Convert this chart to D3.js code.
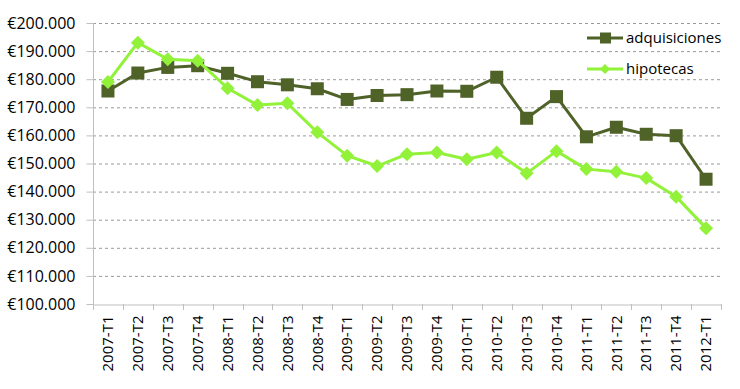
<!DOCTYPE html>
<html><head><meta charset="utf-8">
<script src="https://cdn.jsdelivr.net/npm/d3@7"></script>
<style>body{margin:0;background:#fff}svg{display:block}text{font-family:"Open Sans",sans-serif}</style>
</head><body><svg id="c" width="740" height="389"></svg>
<script>
const categories = ["2007-T1","2007-T2","2007-T3","2007-T4","2008-T1","2008-T2","2008-T3","2008-T4","2009-T1","2009-T2","2009-T3","2009-T4","2010-T1","2010-T2","2010-T3","2010-T4","2011-T1","2011-T2","2011-T3","2011-T4","2012-T1"];
const adquisiciones = [175800,182200,184200,184800,182100,179100,178000,176600,172800,174200,174500,175800,175700,180700,166100,173800,159500,162900,160400,159900,144400];
const hipotecas = [179000,193000,187100,186600,176800,170800,171400,161100,152800,149100,153300,153900,151500,153900,146500,154400,148000,147100,144800,138200,127000];
const yTicks = [100000,110000,120000,130000,140000,150000,160000,170000,180000,190000,200000];
const seriesNames = ["adquisiciones","hipotecas"];
const colors = ["#4f6228","#92f23a"];

const svg = d3.select("#c");
const L = 93, R = 721, T = 23, B = 304;
const x = d3.scaleBand().domain(categories).range([L, R]);
const y = d3.scaleLinear().domain([100000, 200000]).range([B, T]);
const fmt = v => "€" + d3.format(",")(v).replace(/,/g, ".");

// gridlines
svg.append("g").selectAll("line").data(yTicks.slice(1)).join("line")
  .attr("x1", L).attr("x2", R).attr("y1", d => y(d)+0.5).attr("y2", d => y(d)+0.5)
  .attr("stroke", "#9a9a9a").attr("stroke-width", 1).attr("stroke-dasharray", "3,3");

// y axis
const ya = svg.append("g").attr("transform", `translate(${L+0.5},0)`)
  .call(d3.axisLeft(y).tickValues(yTicks).tickFormat(fmt).tickSize(7).tickPadding(11));
ya.select(".domain").attr("stroke", "#bfbfbf").attr("d", `M0,${B+0.5}V${T}`);
ya.selectAll(".tick line").attr("stroke", "#bfbfbf");
ya.selectAll(".tick text").attr("font-size", 16).attr("fill", "#000").attr("font-family", "Open Sans");

// x axis
const xa = svg.append("g").attr("transform", `translate(0,${B+0.5})`)
  .call(d3.axisBottom(x).tickSize(0).tickPadding(0));
xa.select(".domain").attr("stroke", "#bfbfbf");
xa.selectAll(".tick text").attr("font-size", 15).attr("fill", "#000")
  .attr("transform", "rotate(-90)").attr("text-anchor", "end")
  .attr("x", -11).attr("y", 0).attr("dy", "0.35em");
// x tick marks at category boundaries
svg.append("g").selectAll("line").data(d3.range(categories.length + 1)).join("line")
  .attr("x1", i => Math.round(L + i * x.step()) + 0.5).attr("x2", i => Math.round(L + i * x.step()) + 0.5)
  .attr("y1", B).attr("y2", B + 6).attr("stroke", "#bfbfbf");

const cx = c => x(c) + x.bandwidth() / 2;
const line = d3.line().x((d, i) => cx(categories[i])).y(d => y(d));
const diamond = s => `M0,${-s}L${s},0L0,${s}L${-s},0Z`;

function drawSeries(data, color, kind) {
  svg.append("path").datum(data).attr("d", line).attr("fill", "none")
    .attr("stroke", color).attr("stroke-width", 3).attr("stroke-linejoin", "round");
  const g = svg.append("g");
  if (kind === "square") {
    g.selectAll("rect").data(data).join("rect")
      .attr("x", (d, i) => cx(categories[i]) - 6.5).attr("y", d => y(d) - 6.5)
      .attr("width", 13).attr("height", 13).attr("fill", color);
  } else {
    g.selectAll("path").data(data).join("path")
      .attr("transform", (d, i) => `translate(${cx(categories[i])},${y(d)})`)
      .attr("d", diamond(7)).attr("fill", color);
  }
}
drawSeries(adquisiciones, colors[0], "square");
drawSeries(hipotecas, colors[1], "diamond");

// legend
const leg = svg.append("g");
[[seriesNames[0], colors[0], "square", 38], [seriesNames[1], colors[1], "diamond", 69]].forEach(([name, col, kind, ly]) => {
  leg.append("line").attr("x1", 587).attr("x2", 623).attr("y1", ly).attr("y2", ly)
    .attr("stroke", col).attr("stroke-width", 3);
  if (kind === "square") leg.append("rect").attr("x", 600).attr("y", ly - 5.5).attr("width", 11).attr("height", 11).attr("fill", col);
  else leg.append("path").attr("transform", `translate(605,${ly})`).attr("d", diamond(5)).attr("fill", col);
  leg.append("text").attr("x", 626).attr("y", ly).attr("dy", "0.35em").attr("font-size", 15).text(name);
});
</script></body></html>
